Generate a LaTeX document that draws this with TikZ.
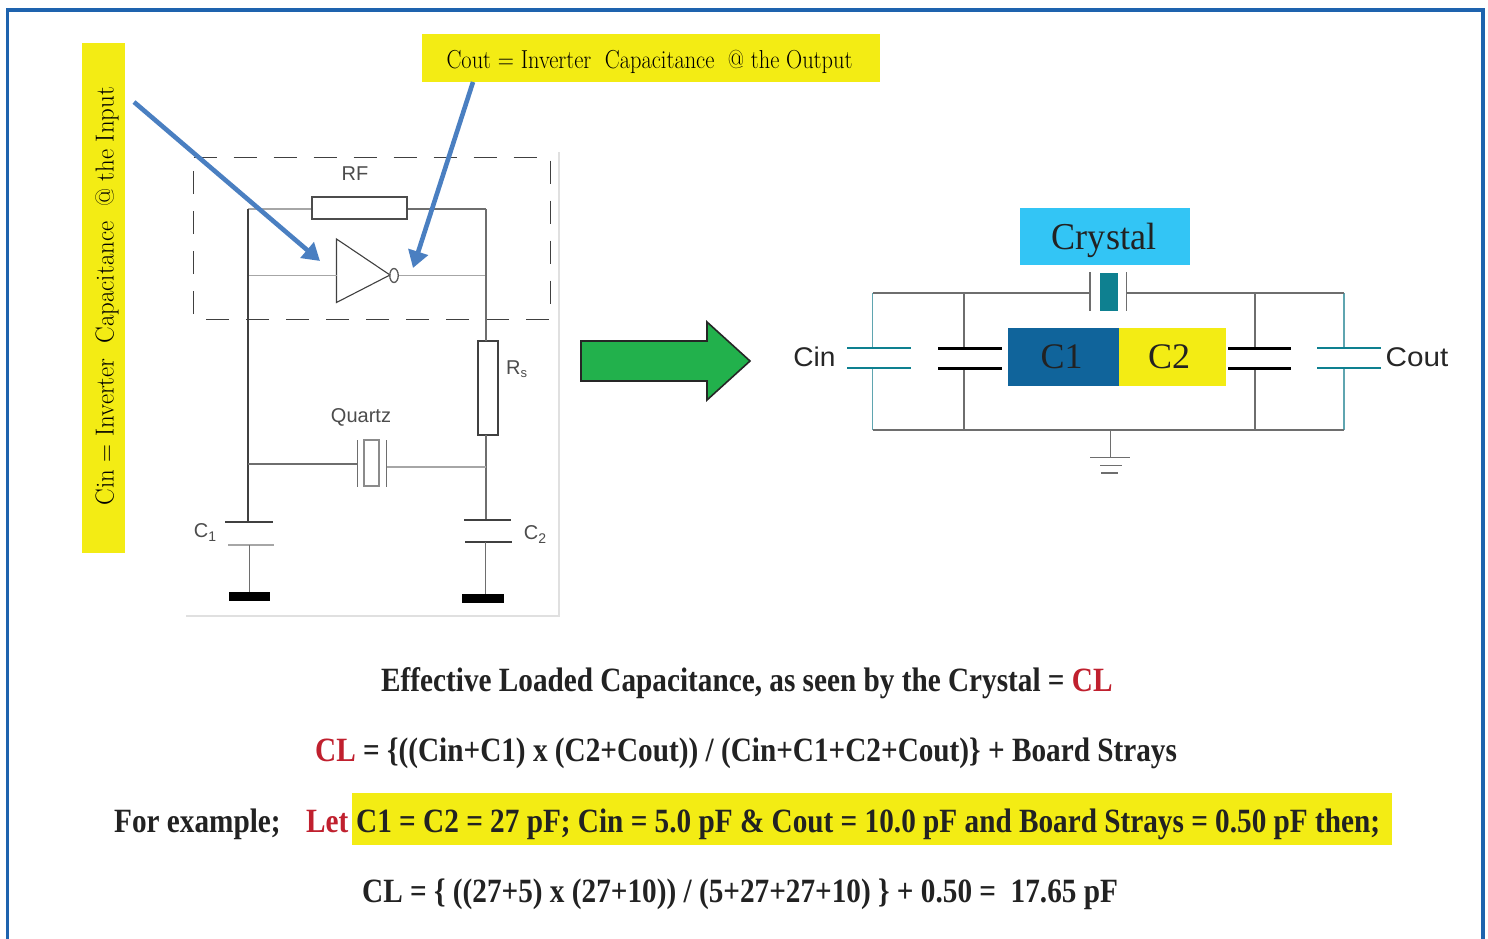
\documentclass[tikz,border=0pt]{standalone}
\usepackage{fontspec}
\setmainfont{Liberation Serif}
\newfontfamily\sansf{Liberation Sans}
\usetikzlibrary{arrows.meta,shapes.geometric}
\definecolor{hiyel}{HTML}{F3EC14}
\definecolor{frameblue}{HTML}{1E63AE}
\definecolor{arrblue}{HTML}{4A7FC1}
\definecolor{cryblue}{HTML}{33C5F5}
\definecolor{cblue}{HTML}{10649B}
\definecolor{teal1}{HTML}{0E8090}
\definecolor{teal2}{HTML}{5FA5B0}
\definecolor{grn}{HTML}{22B14C}
\definecolor{redt}{HTML}{C0202E}
\definecolor{wire}{HTML}{6E6E6E}
\definecolor{inkt}{HTML}{222222}
\newcommand{\bt}[1]{\fontsize{34}{34}\selectfont\bfseries\scalebox{.86}[1]{#1}}
\newcommand{\lmf}{\fontfamily{lmr}\selectfont}
\tikzset{
 wr/.style={draw=wire,line width=1.2pt},
 lt/.style={draw=black!35,line width=1.7pt},
 dk/.style={draw=black!75,line width=1.3pt},
 lb/.style={inner sep=0pt,font=\sansf\fontsize{20}{20}\selectfont,text=black!70},
 lbb/.style={inner sep=0pt,font=\sansf\fontsize{27}{27}\selectfont,text=black!85},
 eq/.style={inner sep=0pt,anchor=base west,text=inkt},
 blk/.style={draw=black,line width=3pt},
 tealw/.style={draw=teal2,line width=1.8pt},
 tealp/.style={draw=teal1,line width=2.8pt},
 gnd/.style={draw=wire,line width=1.8pt},
 bigarr/.style={draw=arrblue,line width=4.6pt,-{Triangle[length=17pt,width=20pt]}}
}
\begin{document}
\begin{tikzpicture}[x=1pt,y=-1pt]
\useasboundingbox (0,0) rectangle (1488,939);
\fill[white] (0,0) rectangle (1488,939);
\draw[frameblue,line width=3.2pt] (7.5,950) -- (7.5,10) -- (1483,10) -- (1483,950);
% yellow labels
\node[fill=hiyel,minimum width=43pt,minimum height=510pt,inner sep=0pt] (cinl) at (103.5,298) {};
\node[rotate=90,inner sep=0pt,font=\lmf\fontsize{26}{26}\selectfont] (cintxt) at (107,296) {\scalebox{.957}[1]{Cin = Inverter\ \ Capacitance\ \ @ the Input}};
\node[fill=hiyel,minimum width=458pt,minimum height=48pt,inner sep=0pt] (coutl) at (651,58) {};
\node[inner sep=0pt,font=\lmf\fontsize{26}{26}\selectfont] (couttxt) at (649.5,61.5) {\scalebox{.862}[1]{Cout = Inverter\ \ Capacitance\ \ @ the Output}};
% left circuit frame
\draw[black!12,line width=1.2pt] (186,616) -- (559,616) -- (559,152);
\draw[black!75,line width=1pt,dash pattern=on 23pt off 17pt] (193.5,157) -- (550,157) -- (550,319) -- (193.5,319) -- cycle;
% RF
\node[draw=black!70,line width=1.2pt,minimum width=95pt,minimum height=22pt,inner sep=0pt] (rf) at (359.5,208) {};
\node[lb] (rflab) at (355,173.5) {RF};
\coordinate (tl) at (248,209);
\coordinate (tr) at (486,209);
\draw[lt] (tl) -- (rf.west |- tl);
\draw[wr] (rf.east |- tl) -- (tr);
% inverter
\coordinate (inva) at (336.5,239);
\coordinate (invb) at (336.5,302.5);
\coordinate (invc) at (390,275);
\draw[draw=black!75,line width=1.1pt] (inva) -- (invc) -- (invb) -- cycle;
\node[draw=black!65,line width=1.3pt,ellipse,minimum width=8.5pt,minimum height=14pt,inner sep=0pt] (bub) at (394,275.5) {};
\draw[lt] (248,275.5) -- (336.5,275.5);
\draw[lt] (bub.east) -- (486,275.5);
% Rs
\node[draw=black!75,line width=1.2pt,minimum width=20pt,minimum height=94pt,inner sep=0pt] (rs) at (488,388) {};
\node[lb,anchor=west] (rslab) at (506,369) {R\raisebox{-3pt}{\fontsize{13}{13}\selectfont s}};
\coordinate (qr) at (486,467);
\coordinate (c2t) at (486,520);
\draw[dk] (248,209) -- (248,522);
\draw[wr] (tr) -- (486,341);
\draw[wr] (486,435) -- (c2t);
% quartz
\draw[wr] (248,464) -- (357.5,464);
\draw[wr] (357.5,440) -- (357.5,487);
\draw[wr] (386.5,440) -- (386.5,487);
\node[draw=wire!80,line width=1.1pt,minimum width=15pt,minimum height=46pt,inner sep=0pt] (qz) at (371.5,463) {};
\draw[lt] (386.5,467) -- (qr);
\node[lb] (qlab) at (361,417) {Quartz};
% C1
\draw[dk] (225,522) -- (273,522);
\draw[lt] (228,545) -- (274,545);
\draw[wr] (249.5,545) -- (249.5,592);
\node[fill=black,minimum width=41pt,minimum height=9.5pt,inner sep=0pt] (g1) at (249.5,596.5) {};
\node[lb] (c1lab) at (205,533) {C\raisebox{-4pt}{\fontsize{14}{14}\selectfont 1}};
% C2
\draw[dk] (464,520) -- (511,520);
\draw[dk] (465,542) -- (512,542);
\draw[wr] (485.5,542) -- (485.5,594);
\node[fill=black,minimum width=42pt,minimum height=9.5pt,inner sep=0pt] (g2) at (483,598.5) {};
\node[lb] (c2lab) at (535,535) {C\raisebox{-4pt}{\fontsize{14}{14}\selectfont 2}};
% blue arrows
\coordinate (a1s) at (134,102);
\coordinate (a1e) at (320,261);
\coordinate (a2s) at (473,82);
\coordinate (a2e) at (413,268);
\draw[bigarr] (a1s) -- (a1e);
\draw[bigarr] (a2s) -- (a2e);
% green arrow
\draw[fill=grn,draw=black!85,line width=1.6pt] (581,341) -- (707,341) -- (707,322) -- (750,361) -- (707,400) -- (707,381) -- (581,381) -- cycle;
% right circuit
\node[fill=cryblue,minimum width=170pt,minimum height=57pt,inner sep=0pt] (crys) at (1105,236.5) {};
\node[inner sep=0pt,font=\fontsize{38}{38}\selectfont,text=inkt] (crystxt) at (1104,240) {\scalebox{.95}[1]{Crystal}};
\draw[wr] (1090,272) -- (1090,311);
\draw[wr] (1126.5,272) -- (1126.5,311);
\node[fill=teal1,minimum width=18pt,minimum height=38pt,inner sep=0pt] (xt) at (1109,292) {};
\draw[wr] (964,293) -- (1090,293);
\draw[wr] (1126.5,293) -- (1255,293);
\draw[tealw] (872.5,430) -- (872.5,368);
\draw[tealw] (872.5,348) -- (872.5,293);
\draw[wr] (872.5,293) -- (964,293);
\draw[tealw] (1344,430) -- (1344,368);
\draw[tealw] (1344,348) -- (1344,293);
\draw[wr] (1344,293) -- (1255,293);
\draw[wr] (964,293) -- (964,348);
\draw[wr] (964,368) -- (964,430);
\draw[wr] (1255,293) -- (1255,348);
\draw[wr] (1255,368) -- (1255,430);
\draw[wr] (872.5,430) -- (1344,430);
\draw[tealp] (847,348) -- (911,348) (847,368) -- (911,368);
\draw[tealp] (1317,348) -- (1381,348) (1317,368) -- (1381,368);
\draw[blk] (938,348) -- (1002,348) (938,368) -- (1002,368);
\draw[blk] (1228,348) -- (1291,348) (1228,368) -- (1291,368);
\node[fill=cblue,minimum width=111pt,minimum height=58pt,inner sep=0pt] (c1b) at (1063.5,357) {};
\node[fill=hiyel,minimum width=107pt,minimum height=58pt,inner sep=0pt] (c2b) at (1172.5,357) {};
\node[inner sep=0pt,font=\fontsize{36}{36}\selectfont,text=inkt] (c1t) at (1061.5,357) {C1};
\node[inner sep=0pt,font=\fontsize{36}{36}\selectfont,text=inkt] (c2t2) at (1169,357) {C2};
\node[lbb] (cinr) at (814.5,357) {\scalebox{1.04}[1]{Cin}};
\node[lbb] (coutr) at (1417,357) {\scalebox{1.1}[1]{Cout}};
% ground
\draw[wr] (1110.5,430) -- (1110.5,457);
\draw[gnd] (1090,457.5) -- (1130,457.5);
\draw[gnd] (1100,465.5) -- (1122,465.5);
\draw[gnd] (1101,473) -- (1118,473);
% equations
\node[fill=hiyel,minimum width=1040pt,minimum height=52pt,inner sep=0pt] (hl) at (872,819) {};
\node[eq] (t1) at (381,691) {\bt{Effective Loaded Capacitance, as seen by the Crystal = \textcolor{redt}{CL}}};
\node[eq] (t2) at (315,761) {\bt{\textcolor{redt}{CL} = \{((Cin+C1) x (C2+Cout)) / (Cin+C1+C2+Cout)\} + Board Strays}};
\node[eq] (t3a) at (114,832) {\bt{For example;}};
\node[eq] (t3b) at (306,832) {\bt{\textcolor{redt}{Let}}};
\node[eq] (t3c) at (356,832) {\bt{C1 = C2 = 27 pF; Cin = 5.0 pF \& Cout = 10.0 pF and Board Strays = 0.50 pF then;}};
\node[eq] (t4) at (362,902) {\bt{CL = \{ ((27+5) x (27+10)) / (5+27+27+10) \} + 0.50 =\ \ 17.65 pF}};
\end{tikzpicture}
\end{document}
